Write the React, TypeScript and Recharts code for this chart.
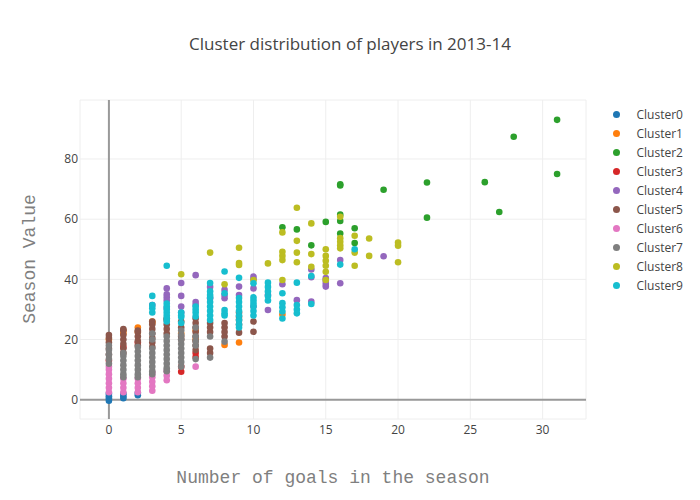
import { CartesianGrid, Scatter, ScatterChart, XAxis, YAxis } from "recharts";

type Pt = [number, number];

const clusterNames = [
  "Cluster0",
  "Cluster1",
  "Cluster2",
  "Cluster3",
  "Cluster4",
  "Cluster5",
  "Cluster6",
  "Cluster7",
  "Cluster8",
  "Cluster9",
];

const clusterColors = [
  "#1f77b4",
  "#ff7f0e",
  "#2ca02c",
  "#d62728",
  "#9467bd",
  "#8c564b",
  "#e377c2",
  "#7f7f7f",
  "#bcbd22",
  "#17becf",
];

const xTicks = [0, 5, 10, 15, 20, 25, 30];
const yTicks = [0, 20, 40, 60, 80];

// [goals, season value]
const cluster0: Pt[] = [
  [0, -0.3], [0, 0.5], [0, 1.2], [0, 2],
  [1, 0.5], [1, 1.2], [1, 2],
  [2, 1.5], [2, 2.2],
];

const cluster1: Pt[] = [
  [0, 20], [1, 22], [1, 23], [2, 22.5], [2, 24], [3, 26], [3, 25.5],
  [5, 22], [6, 23], [6, 20], [8, 18.2], [9, 19], [12, 28.3],
];

const cluster2: Pt[] = [
  [12, 57.3], [13, 56.6], [14, 51.3], [15, 59.1], [16, 71.2], [16, 71.6],
  [16, 61.5], [16, 59.4], [16, 55.2], [17, 57], [17, 52.1], [19, 69.8],
  [22, 72.2], [22, 60.5], [26, 72.3], [27, 62.4], [28, 87.4], [31, 93], [31, 75],
];

const cluster3: Pt[] = [
  [0, 13], [1, 17.5], [2, 19], [5, 9.3], [5, 11], [6, 14.2], [6, 15.5],
];

const cluster4: Pt[] = [
  [3, 31.5],
  [4, 30.5], [4, 33], [4, 34], [4, 35], [4, 37],
  [5, 29], [5, 31], [5, 34.5], [5, 38.8],
  [6, 31.5], [6, 32.5], [6, 41.4],
  [7, 33.7], [7, 37.5],
  [8, 33.7], [8, 34.8], [8, 36.5],
  [9, 34.8], [9, 37.6],
  [10, 31], [10, 37], [10, 40], [10, 40.9],
  [11, 29.8], [11, 34.8],
  [12, 38.4],
  [13, 33.1],
  [14, 32.6], [14, 40.7], [14, 43.3],
  [15, 37.6], [15, 38.5], [15, 39.5], [15, 40.4],
  [16, 38.7], [16, 46.4],
  [19, 47.7],
];

const cluster5: Pt[] = [
  [0, 15], [0, 17], [0, 19], [0, 20.5], [0, 21.5],
  [1, 15.5], [1, 17], [1, 18.5], [1, 20], [1, 21.5], [1, 23], [1, 23.5],
  [2, 18], [2, 19.5], [2, 21], [2, 22.5], [2, 23],
  [3, 17.5], [3, 19], [3, 20.5], [3, 22], [3, 23.5], [3, 25], [3, 26],
  [4, 22], [4, 23.5], [4, 25], [4, 26.5], [4, 27],
  [5, 20], [5, 21], [5, 24], [5, 26],
  [6, 16.5], [6, 18], [6, 19.5], [6, 21], [6, 22.5], [6, 24], [6, 25.5], [6, 27],
  [7, 15.5], [7, 17], [7, 22.5], [7, 24], [7, 25.5],
  [8, 21], [8, 22.5], [8, 24], [8, 25.5],
  [9, 22.3], [9, 25], [9, 26.5], [9, 27.6], [9, 29],
  [10, 22.6], [10, 26],
];

const cluster6: Pt[] = [
  [0, 2.5], [0, 4], [0, 5.5], [0, 7], [0, 8.5], [0, 10], [0, 11],
  [1, 2.5], [1, 4], [1, 5.5], [1, 7],
  [2, 2.5], [2, 4], [2, 5.5], [2, 7],
  [3, 3], [3, 4.5], [3, 6], [3, 7.5], [3, 9],
  [4, 6.5], [4, 8], [4, 9.5],
  [6, 11],
];

const cluster7: Pt[] = [
  [0, 12], [0, 13.5], [0, 15], [0, 16.5], [0, 18],
  [1, 7.5], [1, 8.5], [1, 10], [1, 11.5], [1, 13], [1, 14.5], [1, 15.5],
  [2, 7.5], [2, 8.5], [2, 10], [2, 11.5], [2, 13], [2, 14.5], [2, 16], [2, 17.5],
  [3, 8.5], [3, 9.5], [3, 11], [3, 12.5], [3, 14], [3, 15.5], [3, 17], [3, 20], [3, 22],
  [4, 9.5], [4, 10.5], [4, 12], [4, 13.5], [4, 15], [4, 16.5], [4, 18], [4, 19.5], [4, 21],
  [5, 11], [5, 12.5], [5, 14], [5, 15.5], [5, 17], [5, 18.5], [5, 20], [5, 21.5], [5, 23],
  [6, 13.5], [6, 18], [6, 19.5], [6, 21], [6, 24],
  [7, 14], [7, 21],
  [8, 19.3],
];

const cluster8: Pt[] = [
  [5, 41.7], [7, 48.9], [8, 38.4], [9, 50.5], [9, 45.4], [9, 44.8], [10, 39.8],
  [11, 45.3], [12, 55.6], [12, 49.2], [12, 47.8], [12, 46.4], [12, 39.8],
  [13, 63.8], [13, 52.8], [13, 48.9], [13, 45.7], [14, 58.6], [14, 48.4], [14, 44.2],
  [15, 50], [15, 47.8], [15, 46.2], [15, 44.5], [15, 42.5], [15, 39.8],
  [16, 60.8], [16, 53.7], [16, 52.5], [16, 51.3], [16, 50.3],
  [17, 54.5], [17, 48.9], [17, 44.5], [18, 53.6], [18, 47.8],
  [20, 52.2], [20, 51.2], [20, 45.7],
];

const cluster9: Pt[] = [
  [3, 29], [3, 30.4], [3, 31.5], [3, 34.5],
  [4, 26], [4, 27], [4, 28], [4, 29], [4, 30], [4, 31], [4, 32], [4, 44.5],
  [5, 25.5], [5, 27.5], [5, 28], [5, 29],
  [6, 27.7], [6, 29], [6, 30], [6, 31],
  [7, 26.5], [7, 28], [7, 29.5], [7, 31], [7, 32.5], [7, 34], [7, 34.8], [7, 36], [7, 38.8],
  [8, 28], [8, 28.7], [8, 29.8], [8, 35.4], [8, 42.6],
  [9, 24], [9, 25], [9, 26.5], [9, 28], [9, 29.5], [9, 31], [9, 32.5], [9, 33.8], [9, 40.5],
  [10, 28], [10, 29.5], [10, 31], [10, 32], [10, 33], [10, 34], [10, 38.7],
  [11, 33], [11, 34.5], [11, 36], [11, 37.5], [11, 38.9],
  [12, 27], [12, 29.3], [12, 30.7], [12, 32.1], [12, 35.4],
  [13, 28.7], [13, 30], [13, 31.5], [13, 38.9],
  [14, 31.8], [14, 41.1],
  [16, 44.9],
  [17, 50],
];

const clusters = [
  cluster0, cluster1, cluster2, cluster3, cluster4,
  cluster5, cluster6, cluster7, cluster8, cluster9,
];

const tickStyle = { fontSize: 12, fill: "#444", fontFamily: "'Open Sans', sans-serif" };
const axisTitle = {
  position: "absolute" as const,
  fontFamily: "'Liberation Mono', monospace",
  fontSize: 18,
  color: "#7f7f7f",
  whiteSpace: "nowrap" as const,
};

function Dot(color: string) {
  return (props: any) => <circle cx={props.cx} cy={props.cy} r={3.3} fill={color} />;
}

export default function App() {
  return (
    <div style={{ position: "absolute", left: 0, top: 0, width: 700, height: 500, background: "#fff" }}>
      <ScatterChart width={700} height={500} margin={{ top: 100, right: 114, bottom: 51, left: 40 }}>
        <CartesianGrid stroke="#eeeeee" strokeWidth={1} />
        <CartesianGrid stroke="#999999" strokeWidth={2} horizontalValues={[0]} verticalValues={[0]} />
        <XAxis
          type="number"
          dataKey="x"
          domain={[-2, 33]}
          ticks={xTicks}
          interval={0}
          allowDataOverflow
          height={30}
          axisLine={false}
          tickLine={false}
          tickSize={0}
          tickMargin={6}
          tick={tickStyle}
        />
        <YAxis
          type="number"
          dataKey="y"
          domain={[-6.4, 99.6]}
          ticks={yTicks}
          interval={0}
          allowDataOverflow
          width={40}
          axisLine={false}
          tickLine={false}
          tickSize={0}
          tickMargin={2}
          tick={tickStyle}
        />
        {clusters.map((pts, i) => (
          <Scatter
            key={clusterNames[i]}
            name={clusterNames[i]}
            data={pts.map(([x, y]) => ({ x, y }))}
            fill={clusterColors[i]}
            shape={Dot(clusterColors[i])}
            isAnimationActive={false}
          />
        ))}
      </ScatterChart>

      <div
        style={{
          position: "absolute",
          left: 0,
          width: 700,
          top: 32,
          textAlign: "center",
          fontFamily: "'Open Sans', sans-serif",
          fontSize: 17,
          color: "#444",
          lineHeight: "24px",
        }}
      >
        Cluster distribution of players in 2013-14
      </div>

      <div style={{ ...axisTitle, left: 333, top: 478, transform: "translate(-50%, -50%)" }}>
        Number of goals in the season
      </div>
      <div style={{ ...axisTitle, left: 30, top: 259, transform: "translate(-50%, -50%) rotate(-90deg)" }}>
        Season Value
      </div>

      <div style={{ position: "absolute", left: 606, top: 104.8 }}>
        {clusterNames.map((name, i) => (
          <div key={name} style={{ height: 18.97, display: "flex", alignItems: "center" }}>
            <span
              style={{
                width: 7,
                height: 7,
                borderRadius: "50%",
                background: clusterColors[i],
                marginLeft: 6.5,
                marginRight: 17,
              }}
            />
            <span style={{ fontFamily: "'Open Sans', sans-serif", fontSize: 12, color: "#444" }}>{name}</span>
          </div>
        ))}
      </div>
    </div>
  );
}
